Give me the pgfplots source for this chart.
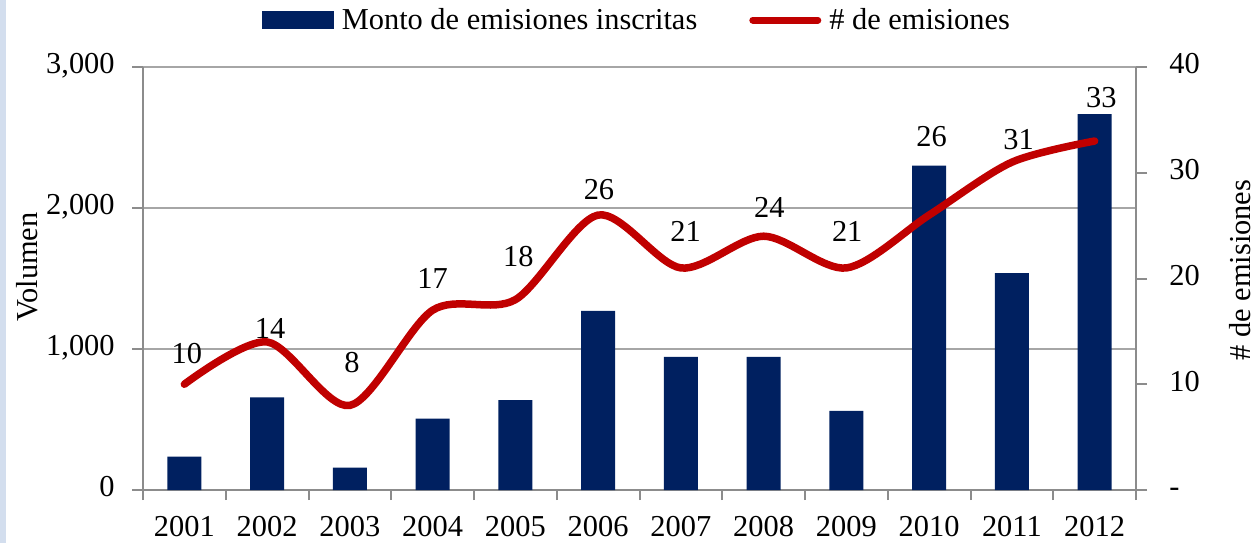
\documentclass[border=0pt]{standalone}
\usepackage{pgfplots}
\pgfplotsset{compat=1.18}
\usepackage{fontspec}
\setmainfont{Liberation Serif}
\definecolor{navy}{HTML}{002060}
\definecolor{lred}{HTML}{C00000}
\definecolor{gridgray}{HTML}{A6A6A6}
\definecolor{axgray}{HTML}{8C8C8C}
\definecolor{stripe}{HTML}{D3DEEE}
\newcommand{\fs}{\fontsize{15.2}{18}\selectfont}
\pgfplotsset{
  common/.style={
    at={(71.5pt,26.5pt)}, anchor=south west,
    scale only axis, width=496.5pt, height=211.5pt,
    xmin=0.5, xmax=12.5,
    /pgf/number format/assume math mode=true,
    tick label style={font=\fs, inner sep=0pt, text height=0.68em, text depth=0pt},
    axis line style={axgray, line width=1pt},
    tick style={axgray, line width=1pt},
    label style={font=\fs, inner sep=0pt},
  }
}
\begin{document}
\begin{tikzpicture}
\path[use as bounding box] (0,0) rectangle (630pt,271.5pt);
\fill[stripe] (0,0) rectangle (3pt,271.5pt);
\begin{axis}[common,
  ymin=0, ymax=3000,
  axis x line*=bottom, axis y line*=left,
  tick align=outside,
  xtick={1,...,12},
  xticklabels={2001,2002,2003,2004,2005,2006,2007,2008,2009,2010,2011,2012},
  major x tick style={draw=none},
  minor xtick={0.5,1.5,...,12.5},
  minor tick length=5pt,
  major tick length=5.5pt,
  ytick={0,1000,2000,3000},
  yticklabels={0,{1,000},{2,000},{3,000}},
  xticklabel style={anchor=north, yshift=-10.5pt},
  yticklabel style={anchor=east, xshift=-8.5pt},
  ymajorgrids=true,
  grid style={gridgray, line width=1pt},
  ylabel={Volumen},
  ylabel style={at={(rel axis cs:-0.1168,0.527)}, anchor=center},
]
\addplot[ybar, bar width=17pt, fill=navy, draw=none] coordinates {
(1,236) (2,657) (3,158) (4,506) (5,638) (6,1270) (7,945) (8,945) (9,562) (10,2300) (11,1539) (12,2665)};
\end{axis}
\begin{axis}[common,
  ymin=0, ymax=40,
  axis x line=none, axis y line*=right,
  tick align=outside,
  major tick length=5.5pt,
  ytick={0,10,20,30,40},
  yticklabels={-,10,20,30,40},
  yticklabel style={anchor=west, xshift=11pt},
  ylabel={\# de emisiones},
  ylabel style={at={(rel axis cs:1.1047,0.520)}, anchor=center},
  clip=false,
  legend style={font=\fs, draw=none, fill=none, at={(rel axis cs:0.4985,1.111)}, anchor=center,
    legend columns=2, /tikz/every even column/.append style={column sep=24pt}},
]
\addlegendimage{legend image code/.code={\fill[navy] (0pt,-4.25pt) rectangle (35.5pt,4.25pt);}}
\addlegendentry{\hspace{2pt}Monto de emisiones inscritas}
\addplot[lred, line width=3.75pt, smooth, line cap=round, line join=round,
  legend image code/.code={\draw[lred, line width=3.5pt, line cap=round] (1.75pt,0pt) -- (34.25pt,0pt);}]
  coordinates {(1,10) (2,14) (3,8) (4,17) (5,18) (6,26) (7,21) (8,24) (9,21) (10,26) (11,31) (12,33)};
\addlegendentry{\hspace{2pt}\# de emisiones}
\addplot[forget plot, draw=none, mark=none, nodes near coords, point meta=explicit symbolic,
  nodes near coords style={anchor=center, font=\fs, text=black, inner sep=0pt, text height=0.68em, text depth=0pt}]
  table[meta=lab] {
x y lab
1.03 12.58 10
2.035 14.94 14
3.025 11.73 8
4.0 19.67 17
5.037 21.75 18
6.01 28.09 26
7.056 24.11 21
8.07 26.38 24
9.01 24.11 21
10.03 33.10 26
11.08 32.81 31
12.08 36.78 33
};
\end{axis}
\end{tikzpicture}
\end{document}
